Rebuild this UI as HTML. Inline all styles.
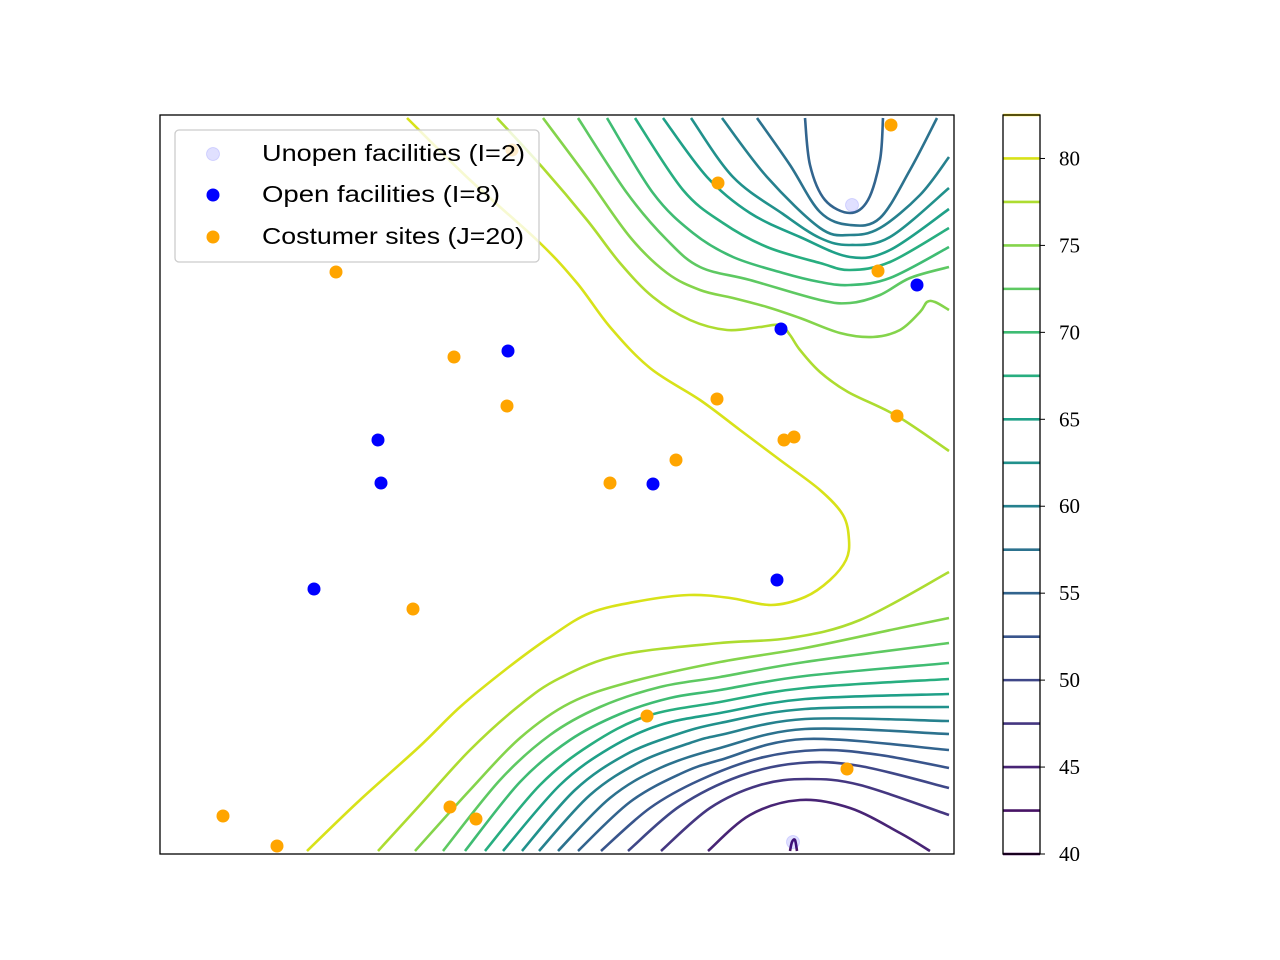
<!DOCTYPE html>
<html><head><meta charset="utf-8"><style>
body{margin:0;background:#fff;}
svg{display:block;}
.tk{font-family:"Liberation Serif",serif;font-size:21px;fill:#000;}
.lg{font-family:"Liberation Sans",sans-serif;font-size:23px;fill:#000;}
</style></head><body>
<svg id="chart" width="1280" height="960" viewBox="0 0 1280 960" xmlns="http://www.w3.org/2000/svg">
<defs><clipPath id="pc"><rect x="160" y="115" width="794" height="739"/></clipPath></defs>
<rect x="0" y="0" width="1280" height="960" fill="#fff"/>
<g id="contours" clip-path="url(#pc)"></g>
<g id="points"></g>
<rect x="160" y="115" width="794" height="739" fill="none" stroke="#000" stroke-width="1.3"/>
<g>
<rect x="175" y="130" width="364" height="132" rx="4" fill="#fff" fill-opacity="0.8" stroke="#ccc" stroke-width="1.3"/>
<circle cx="213" cy="154" r="6.5" fill="#0000ff" fill-opacity="0.12" stroke="#0000ff" stroke-opacity="0.12"/>
<text class="lg" x="262" y="161" textLength="263" lengthAdjust="spacingAndGlyphs">Unopen facilities (I=2)</text>
<circle cx="213" cy="195" r="6.5" fill="#0000ff"/>
<text class="lg" x="262" y="202" textLength="238" lengthAdjust="spacingAndGlyphs">Open facilities (I=8)</text>
<circle cx="213" cy="237" r="6.5" fill="#ffa500"/>
<text class="lg" x="262" y="244" textLength="262" lengthAdjust="spacingAndGlyphs">Costumer sites (J=20)</text>
</g>
<g id="cbar"></g>
</svg>
<script>
const xDomain=[0,794], yDomain=[0,739];
const levels=[42.5,45,47.5,50,52.5,55,57.5,60,62.5,65,67.5,70,72.5,75,77.5,80];
const levelColors=["#471365","#482475","#453781","#3f4788","#39558c","#32648e","#2c728e","#26818e","#21918c","#1fa088","#28ae80","#3fbc73","#5ec962","#84d44b","#addc30","#d8e219"];
const cbarLevels=[40,42.5,45,47.5,50,52.5,55,57.5,60,62.5,65,67.5,70,72.5,75,77.5,80,82.5];
const cbarColors=["#440154","#471365","#482475","#453781","#3f4788","#39558c","#32648e","#2c728e","#26818e","#21918c","#1fa088","#28ae80","#3fbc73","#5ec962","#84d44b","#addc30","#d8e219","#fde725"];
const cbarTicks=[40,45,50,55,60,65,70,75,80];
const contourLevel=[80,77.5,77.5,75,75,72.5,72.5,70,70,67.5,67.5,65,65,62.5,62.5,60,60,57.5,57.5,55,55,52.5,50,47.5,45,42.5];
const contourPaths=[
[[247,736],[310,674],[380,611],[417,571],[450,527],[490,486],[540,454],[580,424],[620,394],[660,364],[683,339],[689,314],[686,294],[670,274],[645,257],[611,249],[570,256],[529,259],[480,253],[430,241],[390,217],[345,184],[300,147],[259,107],[200,54],[147,3]],
[[337,736],[383,686],[427,634],[460,591],[493,557],[530,534],[567,524],[600,527],[620,529],[630,519],[640,504],[660,482],[688,462],[737,438],[789,403]],
[[218,3],[260,49],[310,104],[360,149],[400,176],[460,199],[560,211],[630,216],[700,234],[789,282]],
[[383,736],[427,677],[470,617],[507,581],[540,564],[573,556],[607,547],[640,536],[680,521],[713,517],[740,524],[760,542],[767,552],[775,552],[789,544]],
[[255,3],[310,64],[360,116],[410,151],[470,172],[560,192],[645,206],[740,226],[789,236]],
[[418,736],[467,661],[507,614],[540,587],[590,574],[660,554],[690,551],[720,559],[750,576],[789,587]],
[[283,3],[340,74],[390,119],[440,147],[500,167],[560,177],[645,192],[789,211]],
[[447,736],[493,661],[533,621],[573,597],[623,581],[660,572],[690,569],[730,576],[789,607]],
[[305,3],[360,72],[410,114],[460,140],[510,156],[560,164],[645,178],[789,191]],
[[475,736],[523,664],[563,631],[607,607],[660,591],[690,584],[730,592],[789,626]],
[[325,3],[380,69],[430,109],[487,138],[560,152],[645,166],[789,175]],
[[503,736],[547,677],[590,641],[640,617],[690,597],[730,604],[789,645]],
[[343,3],[400,69],[450,106],[500,129],[560,141],[645,155],[789,160]],
[[531,736],[573,677],[623,640],[660,616],[690,609],[730,617],[789,666]],
[[362,3],[415,64],[465,99],[515,119],[560,131],[645,145],[789,147]],
[[562,736],[607,677],[660,626],[690,619],[720,626],[760,659],[789,697]],
[[379,3],[430,59],[480,92],[530,111],[560,119],[645,135],[789,133]],
[[597,736],[630,689],[660,642],[690,629],[720,636],[750,684],[777,736]],
[[398,3],[450,56],[500,86],[560,106],[645,125],[789,120]],
[[645,736],[650,689],[665,654],[690,641],[708,654],[720,694],[723,736]],
[[418,3],[470,52],[520,80],[560,94],[645,115],[789,104]],
[[441,3],[490,46],[540,74],[600,96],[660,104],[720,99],[789,86]],
[[468,3],[520,48],[580,78],[640,91],[700,88],[789,66]],
[[501,3],[550,46],[600,69],[647,75],[700,69],[789,39]],
[[548,3],[590,39],[640,54],[690,46],[740,21],[770,3]],
[[630,3],[632,12],[635,14],[637,3]]
];
const unopenX=[692,633], unopenY=[649,12];
const openX=[621,757,348,218,221,493,154,617], openY=[525,569,503,414,371,370,265,274];
const custX=[731,558,718,176,294,347,557,737,624,634,516,450,253,487,687,63,290,316,117,352];
const custY=[729,671,583,582,497,448,455,438,414,417,394,371,245,138,85,38,47,35,8,704];

const NS="http://www.w3.org/2000/svg";
const PX0=160,PX1=954,PY0=854,PY1=115;
function sx(v){return PX0+(v-xDomain[0])/(xDomain[1]-xDomain[0])*(PX1-PX0);}
function sy(v){return PY0-(v-yDomain[0])/(yDomain[1]-yDomain[0])*(PY0-PY1);}
function cy(l){return 854-(l-40)/42.5*(854-115);}
function smooth(pts){
  let d="M"+pts[0][0].toFixed(1)+","+pts[0][1].toFixed(1);
  for(let i=0;i<pts.length-1;i++){
    const p0=pts[Math.max(i-1,0)],p1=pts[i],p2=pts[i+1],p3=pts[Math.min(i+2,pts.length-1)];
    const c1=[p1[0]+(p2[0]-p0[0])/6,p1[1]+(p2[1]-p0[1])/6];
    const c2=[p2[0]-(p3[0]-p1[0])/6,p2[1]-(p3[1]-p1[1])/6];
    d+="C"+c1[0].toFixed(1)+","+c1[1].toFixed(1)+" "+c2[0].toFixed(1)+","+c2[1].toFixed(1)+" "+p2[0].toFixed(1)+","+p2[1].toFixed(1);
  }
  return d;
}
const cg=document.getElementById("contours");
contourPaths.forEach((path,i)=>{
  const lv=contourLevel[i];
  const col=levelColors[levels.indexOf(lv)];
  const pts=path.map(p=>[sx(p[0]),sy(p[1])]);
  const el=document.createElementNS(NS,"path");
  el.setAttribute("d",smooth(pts));
  el.setAttribute("fill","none");
  el.setAttribute("stroke",col);
  el.setAttribute("stroke-width","2.6");
  
  
  cg.appendChild(el);
});
const pg=document.getElementById("points");
function dot(x,y,fill,op,name){
  const c=document.createElementNS(NS,"circle");
  c.setAttribute("cx",sx(x));c.setAttribute("cy",sy(y));c.setAttribute("r","6.5");
  c.setAttribute("fill",fill);c.setAttribute("fill-opacity",op);
  if(op<1){c.setAttribute("stroke",fill);c.setAttribute("stroke-opacity",op);}
  
  
  pg.appendChild(c);
}
unopenX.forEach((x,i)=>dot(x,unopenY[i],"#0000ff",0.12,"unopen-facility"));
openX.forEach((x,i)=>dot(x,openY[i],"#0000ff",1,"open-facility"));
custX.forEach((x,i)=>dot(x,custY[i],"#ffa500",1,"customer-site"));

const cb=document.getElementById("cbar");
cbarLevels.forEach((l,i)=>{
  const ln=document.createElementNS(NS,"line");
  ln.setAttribute("x1",1003);ln.setAttribute("x2",1040);
  ln.setAttribute("y1",cy(l));ln.setAttribute("y2",cy(l));
  ln.setAttribute("stroke",cbarColors[i]);ln.setAttribute("stroke-width","2.6");
  
  
  cb.appendChild(ln);
});
const fr=document.createElementNS(NS,"rect");
fr.setAttribute("x",1003);fr.setAttribute("y",115);fr.setAttribute("width",37);fr.setAttribute("height",739);
fr.setAttribute("fill","none");fr.setAttribute("stroke","#000");fr.setAttribute("stroke-width","1.3");


cb.appendChild(fr);
cbarTicks.forEach(t=>{
  const tk=document.createElementNS(NS,"line");
  tk.setAttribute("x1",1040);tk.setAttribute("x2",1045);tk.setAttribute("y1",cy(t));tk.setAttribute("y2",cy(t));
  tk.setAttribute("stroke","#000");tk.setAttribute("stroke-width","1");
  
  
  cb.appendChild(tk);
  const tx=document.createElementNS(NS,"text");
  tx.setAttribute("x",1059);tx.setAttribute("y",cy(t)+7);tx.setAttribute("class","tk");
  tx.textContent=t;
  
  
  cb.appendChild(tx);
});
</script>
</body></html>
